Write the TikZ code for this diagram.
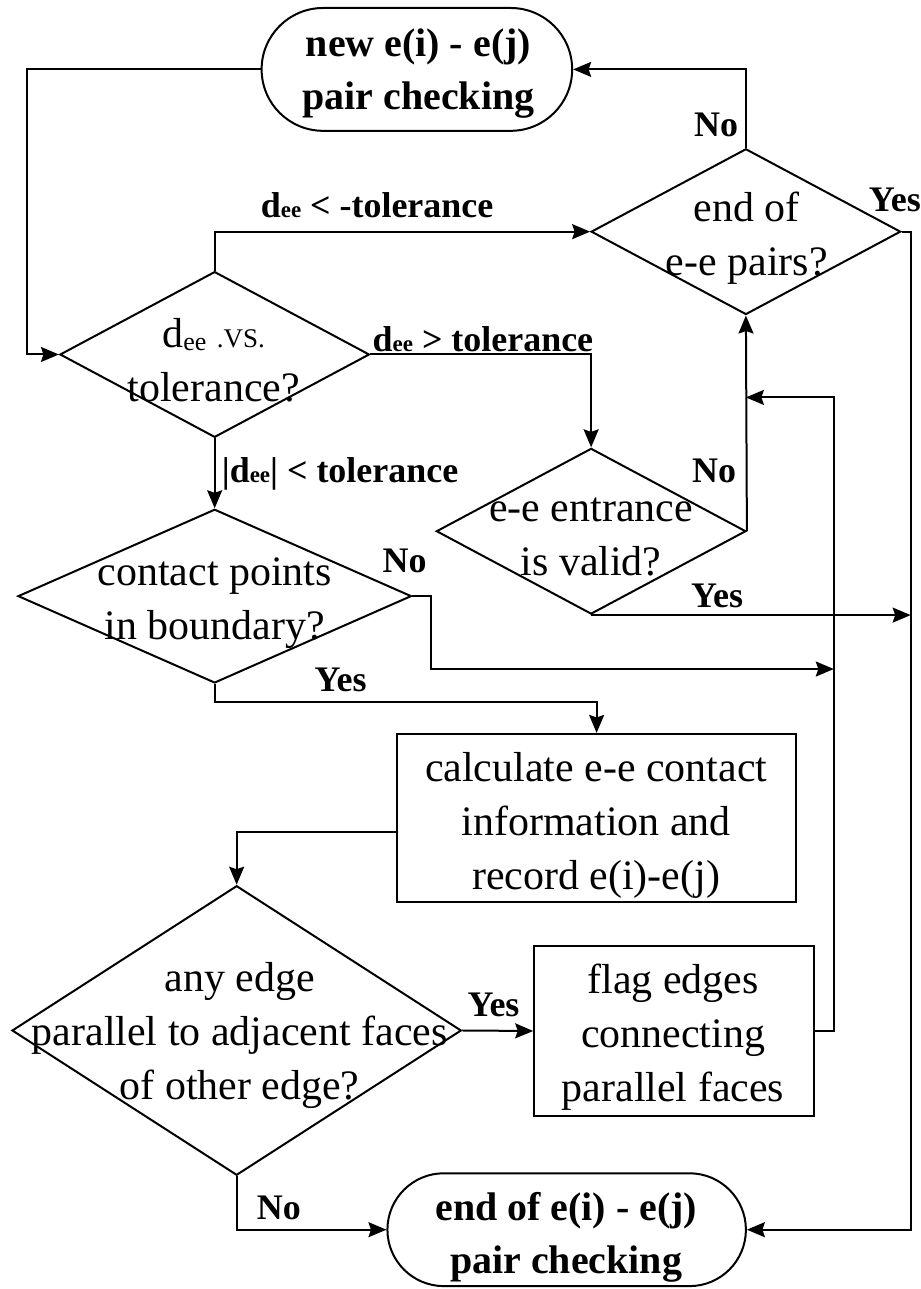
\documentclass[tikz,border=0pt]{standalone}
\usepackage{fontspec}
\setmainfont{Liberation Serif}
\usetikzlibrary{shapes.geometric,shapes.misc,arrows.meta,calc}

% stacked, centred lines whose baseline is the first line's baseline
\newcommand\mlines[1]{\begin{tabular}[t]{@{}c@{}}#1\end{tabular}}
% the small "ee" index of d
\newcommand\eeidx{{\fontsize{23}{23}\selectfont ee}}
\newcommand\eelow{\raisebox{-3pt}{\fontsize{26}{26}\selectfont ee}}

\begin{document}
\begin{tikzpicture}[x=1pt,y=-1pt,
  wire/.style={draw, line width=2pt},
  flow/.style={draw, line width=2pt, -{Stealth[length=18pt,width=15pt,inset=2.5pt]}},
  decision/.style={draw, diamond, line width=2pt, inner sep=0pt,
                   minimum width=310pt, minimum height=166pt},
  process/.style={draw, rectangle, line width=2pt, inner sep=0pt},
  terminal/.style={draw, rounded rectangle, line width=2pt, inner sep=0pt},
  body/.style={inner sep=0pt, anchor=base, font=\fontsize{42}{54}\selectfont},
  headline/.style={inner sep=0pt, anchor=base, font=\bfseries\fontsize{40}{53}\selectfont},
  tag/.style={inner sep=0pt, anchor=base west, font=\bfseries\fontsize{36}{40}\selectfont},
]
\path[fill=white] (0,0) rectangle (919,1289);

% ---- shapes ----
\node[terminal, minimum width=311pt, minimum height=123pt] (start) at (417.5,69.5) {};
\node[headline] (startT) at (419,57) {\mlines{new e(i) - e(j)\\pair checking}};

\node[decision] (endq) at (747,232) {};
\node[body] (endqT) at (748,222) {\mlines{end of\\e-e pairs?}};

\node[decision] (cmp) at (215,355) {};
\node[body] (cmpT) at (214,348) {\mlines{d\eelow\ {\fontsize{27}{27}\selectfont .VS.}\\tolerance?}};

\node[decision] (entr) at (592,532) {};
\node[body] (entrT) at (592,522) {\mlines{e-e entrance\\is valid?}};

\node[decision, minimum width=394pt, minimum height=174pt] (bnd) at (215,597) {};
\node[body] (bndT) at (215,586) {\mlines{contact points\\in boundary?}};

\node[process, minimum width=399pt, minimum height=168pt] (calc) at (597.5,819) {};
\node[body] (calcT) at (597,783) {\mlines{calculate e-e contact\\information and\\record e(i)-e(j)}};

\node[decision, minimum width=450pt, minimum height=290pt] (par) at (237,1032) {};
\node[body] (parT) at (240,993) {\mlines{any edge\\parallel to adjacent faces\\of other edge?}};

\node[process, minimum width=280pt, minimum height=170pt] (flag) at (675,1032.5) {};
\node[body] (flagT) at (674,995) {\mlines{flag edges\\connecting\\parallel faces}};

\node[terminal, minimum width=359pt, minimum height=113pt] (stop) at (567.5,1231.5) {};
\node[headline] (stopT) at (567,1222) {\mlines{end of e(i) - e(j)\\pair checking}};

% ---- routing points ----
\coordinate (leftrail) at (27,0);
\coordinate (rightrail) at (912,0);
\coordinate (loop) at (835,398);
\coordinate (jog) at (432,670);
\coordinate (yesbend) at (0,703);

% ---- connectors ----
\path[flow] (endq.north) |- (start.east);
\path[flow] (start.west) -- (start.west -| leftrail) |- (cmp.west);
\path[flow] (cmp.north) |- (endq.west);
\path[flow] (cmp.east) -| (entr.north);
\path[flow] (cmp.south) -- (bnd.north);
\path[flow] (entr.east) -- (endq.south);
\path[flow] (entr.south) -- (entr.south -| rightrail);
\path[flow] (endq.east) -- (endq.east -| rightrail) |- (stop.east);
\path[flow] (bnd.east) -- (bnd.east -| jog) -- (jog) -- (jog -| loop);
\path[flow] (bnd.south) -- (bnd.south |- yesbend) -| (calc.north);
\path[flow] ([yshift=-14pt]calc.west) -| (par.north);
\path[flow] (par.east) -- (flag.west);
\path[flow] (par.south) |- (stop.west);
\path[flow] (flag.east) -| (loop) -- (loop -| endq.south);

% ---- branch labels ----
\node[tag] (l1) at (695,137) {No};
\node[tag] (l2) at (870,212) {Yes};
\node[tag] (l3) at (261,218) {d\eeidx\ < -tolerance};
\node[tag] (l4) at (373,352) {d\eeidx\ > tolerance};
\node[tag] (l5) at (222,483) {|d\eeidx| < tolerance};
\node[tag] (l6) at (693,483) {No};
\node[tag] (l7) at (692,608) {Yes};
\node[tag] (l8) at (383,573) {No};
\node[tag] (l9) at (315,693) {Yes};
\node[tag] (l10) at (468,1018) {Yes};
\node[tag] (l11) at (257,1221) {No};
\end{tikzpicture}
\end{document}
